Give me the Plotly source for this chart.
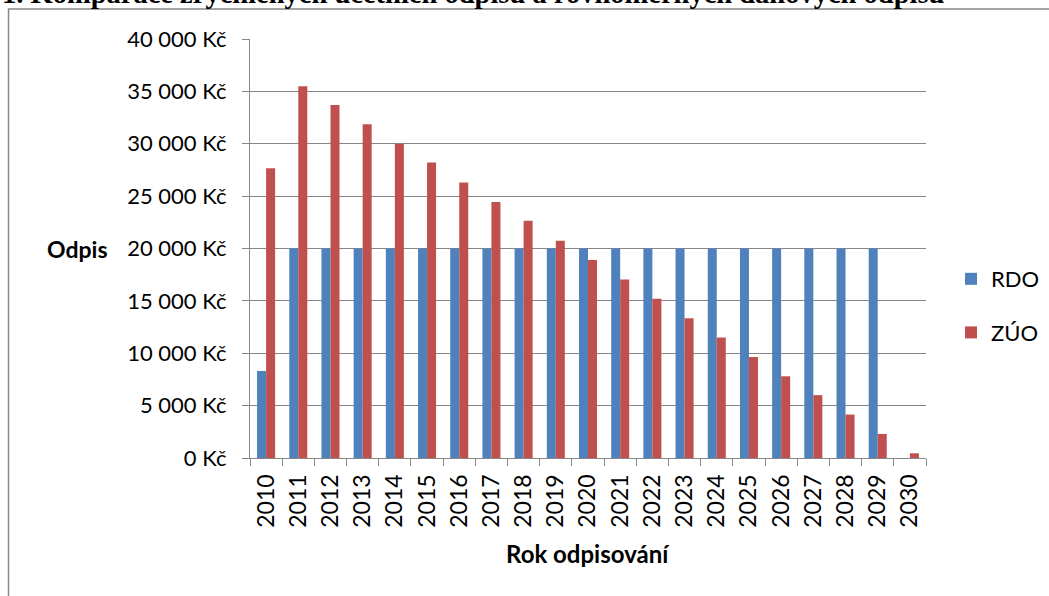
import plotly.graph_objects as go

years = [str(y) for y in range(2010, 2031)]
rdo = [8300] + [20000] * 19 + [None]
zuo = [27650, 35500, 33700, 31850, 30000, 28200, 26300, 24450, 22650, 20750,
       18900, 17050, 15200, 13350, 11500, 9650, 7800, 6000, 4150, 2300, 450]
y_tickvals = [0, 5000, 10000, 15000, 20000, 25000, 30000, 35000, 40000]
y_ticktext = ["0 Kč", "5 000 Kč", "10 000 Kč", "15 000 Kč", "20 000 Kč",
              "25 000 Kč", "30 000 Kč", "35 000 Kč", "40 000 Kč"]

W, H = 1049, 596
ML, MR, MT, MB = 250, 123, 39, 138
PW, PH = W - ML - MR, H - MT - MB


def px(x):
    return (x - ML) / PW


def py(y):
    return (H - MB - y) / PH


FONT = "Lato"
GRID = "#878787"

fig = go.Figure()
fig.add_trace(go.Bar(x=years, y=rdo, name="RDO", marker_color="#4F81BD",
                     marker_line_width=0, legendgroup="a"))
fig.add_trace(go.Bar(x=years, y=zuo, name="ZÚO", marker_color="#C0504D",
                     marker_line_width=0, legendgroup="b"))

fig.update_layout(
    width=W, height=H,
    margin=dict(l=ML, r=MR, t=MT, b=MB, pad=0, autoexpand=False),
    paper_bgcolor="white", plot_bgcolor="white",
    barmode="group", bargap=0.44, bargroupgap=0,
    font=dict(family=FONT, size=22, color="black"),
    showlegend=True,
    legend=dict(x=px(951), xanchor="left", y=py(258), yanchor="top",
                font=dict(family=FONT, size=22), tracegroupgap=22,
                bgcolor="rgba(0,0,0,0)", itemclick=False),
)
fig.update_xaxes(
    type="category", showgrid=False, showline=True, linecolor=GRID, linewidth=1.3,
    ticks="outside", tickson="boundaries", ticklen=7, tickcolor=GRID, tickwidth=1.3,
    tickangle=-90, tickfont=dict(family=FONT, size=23), ticklabelstandoff=6,
)
fig.update_yaxes(
    range=[0, 40000], tickvals=y_tickvals, ticktext=y_ticktext,
    showgrid=True, gridcolor=GRID, gridwidth=1.3,
    showline=True, linecolor=GRID, linewidth=1.3,
    ticks="outside", ticklen=7, tickcolor=GRID, tickwidth=1.3,
    tickfont=dict(family=FONT, size=22), zeroline=False, ticklabelstandoff=11,
)

fig.add_annotation(text="<b>Odpis</b>", xref="paper", yref="paper",
                   x=px(78), y=py(249), xanchor="center", yanchor="middle",
                   showarrow=False, font=dict(family=FONT, size=23))
fig.add_annotation(text="<b>Rok odpisování</b>", xref="paper", yref="paper",
                   x=px(588), y=py(553), xanchor="center", yanchor="middle",
                   showarrow=False, font=dict(family=FONT, size=24))
fig.add_annotation(text="<b>1. Komparace zrychlených účetních odpisů a rovnoměrných daňových odpisů</b>",
                   xref="paper", yref="paper", x=px(0), y=py(11),
                   xanchor="left", yanchor="bottom", showarrow=False,
                   font=dict(family="Liberation Serif", size=28.5, color="black"))
fig.add_shape(type="rect", xref="paper", yref="paper",
              x0=px(8.5), x1=px(1070), y0=py(620), y1=py(9),
              line=dict(color=GRID, width=1.5), layer="below")

fig.write_html("out.html")
